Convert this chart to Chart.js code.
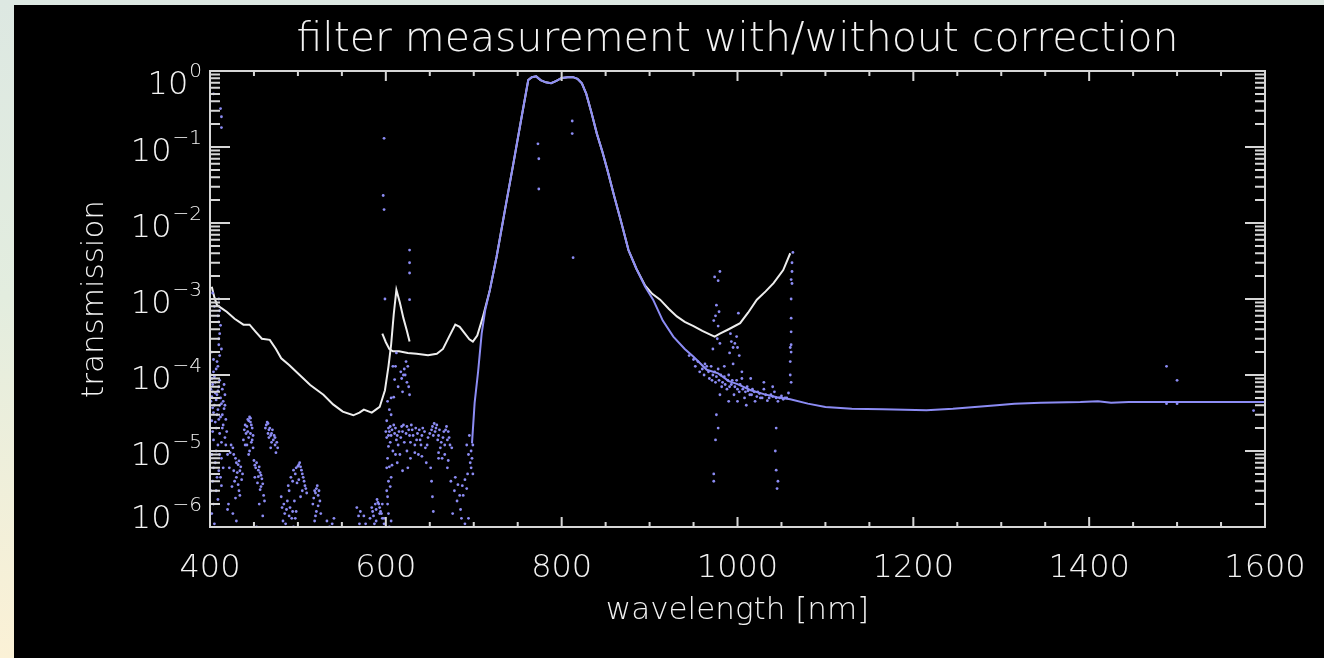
<!DOCTYPE html>
<html>
<head>
<meta charset="utf-8">
<title>filter measurement with/without correction</title>
<script src="https://cdn.jsdelivr.net/npm/chart.js@4.4.1/dist/chart.umd.min.js"></script>
<style>
  html, body { margin: 0; padding: 0; }
  body {
    width: 1324px; height: 658px; overflow: hidden; position: relative;
    background: linear-gradient(to bottom, #dde8e2 0%, #e3eddf 45%, #fbf1d6 100%);
  }
  #panel { position: absolute; left: 14px; top: 5px; right: 0; bottom: 0; background: #000; }
  #chart { position: absolute; left: 0; top: 0; }
</style>
</head>
<body>
<div id="panel"></div>
<canvas id="chart" width="1324" height="658"></canvas>
<script>
const titleText = "filter measurement with/without correction";
const xTitle = "wavelength [nm]";
const yTitle = "transmission";
const xTicks = [400, 600, 800, 1000, 1200, 1400, 1600];
const yTickExponents = [0, -1, -2, -3, -4, -5, -6];

// uncorrected measurement, first detector segment (ends with the 612 nm spike)
const uncorrWlA = [402, 405, 408, 413, 419, 428, 438, 445, 452, 459,
  468, 475, 481, 490, 502, 514, 529, 540, 551, 563,
  570, 575, 584, 593, 599, 603, 606, 609, 612, 616,
  620, 624, 627];
const uncorrA = [1.45e-3, 1.05e-3, 8.3e-4, 7.6e-4, 6.8e-4, 5.5e-4, 4.6e-4, 4.6e-4, 3.7e-4, 3.0e-4,
  2.9e-4, 2.2e-4, 1.66e-4, 1.35e-4, 1.0e-4, 7.4e-5, 5.5e-5, 4.1e-5, 3.3e-5, 2.95e-5,
  3.2e-5, 3.5e-5, 3.2e-5, 3.8e-5, 6.3e-5, 1.3e-4, 2.5e-4, 6.3e-4, 1.32e-3, 8.9e-4,
  5.6e-4, 3.8e-4, 2.75e-4];

// uncorrected measurement, second segment
const uncorrWlB = [596, 600, 604, 608, 615, 625, 635, 648, 658, 665,
  672, 679, 684, 690, 695, 699, 704, 710, 718, 726,
  735, 745, 755, 762, 766, 771, 776, 782, 788, 794,
  800, 807, 813, 818, 823, 828, 834, 840, 846, 852,
  860, 868, 876, 885, 895, 903, 912, 922, 931, 940,
  950, 960, 969, 974, 980, 990, 1003, 1012, 1022, 1032,
  1041, 1052, 1060];
const uncorrB = [3.5e-4, 2.7e-4, 2.2e-4, 2.05e-4, 2.05e-4, 1.95e-4, 1.9e-4, 1.82e-4, 1.9e-4, 2.2e-4,
  3.2e-4, 4.6e-4, 4.3e-4, 3.5e-4, 2.95e-4, 2.75e-4, 3.3e-4, 5.6e-4, 1.26e-3, 3.6e-3,
  1.38e-2, 6.0e-2, 0.27, 0.76, 0.83, 0.85, 0.76, 0.71, 0.69, 0.74,
  0.81, 0.83, 0.83, 0.79, 0.69, 0.5, 0.28, 0.15, 8.9e-2, 5.0e-2,
  2.2e-2, 1.0e-2, 4.4e-3, 2.5e-3, 1.5e-3, 1.17e-3, 9.8e-4, 7.4e-4, 5.9e-4, 5.0e-4,
  4.4e-4, 3.8e-4, 3.4e-4, 3.2e-4, 3.5e-4, 4.0e-4, 4.8e-4, 6.6e-4, 9.8e-4, 1.26e-3,
  1.62e-3, 2.4e-3, 4.0e-3];

// corrected measurement, the continuous part
const corrWl = [698, 701, 705, 709, 713, 718, 726, 735, 745, 755,
  762, 766, 771, 776, 782, 788, 794, 800, 807, 813,
  818, 823, 828, 834, 840, 846, 852, 860, 868, 876,
  885, 895, 904, 915, 927, 940, 950, 965, 978, 990,
  1000, 1015, 1030, 1045, 1060, 1080, 1100, 1130, 1165, 1215,
  1245, 1270, 1295, 1315, 1345, 1390, 1410, 1425, 1445, 1600];
const corr = [1.26e-5, 4.3e-5, 1.12e-4, 3.5e-4, 7.1e-4, 1.26e-3, 3.6e-3, 1.38e-2, 6.0e-2, 0.27,
  0.76, 0.83, 0.85, 0.76, 0.71, 0.69, 0.74, 0.81, 0.83, 0.83,
  0.79, 0.69, 0.5, 0.28, 0.15, 8.9e-2, 5.0e-2, 2.2e-2, 1.0e-2, 4.4e-3,
  2.5e-3, 1.45e-3, 9.8e-4, 5.2e-4, 3.2e-4, 2.2e-4, 1.74e-4, 1.17e-4, 1.05e-4, 8.3e-5,
  7.6e-5, 6.3e-5, 5.6e-5, 5.1e-5, 4.8e-5, 4.2e-5, 3.8e-5, 3.6e-5, 3.55e-5, 3.45e-5,
  3.6e-5, 3.8e-5, 4.0e-5, 4.2e-5, 4.3e-5, 4.4e-5, 4.5e-5, 4.3e-5, 4.4e-5, 4.4e-5];

// corrected measurement, scattered noisy samples [wavelength, transmission]
const corrScatter = [
  // left edge column
  [404, 0.5], [412, 0.32], [413, 0.25], [413, 0.18],
  [410, 1e-3], [411, 7e-4], [410, 5e-4], [411, 3.5e-4], [410, 2.5e-4], [411, 1.8e-4], [409, 1.3e-4],
  [403, 1.2e-3], [405, 8e-4], [409, 6e-4], [412, 4.5e-4], [410, 3e-4], [413, 2.2e-4], [408, 1.5e-4],
  [404, 1.1e-4], [402, 9e-5], [406, 8e-5], [410, 7e-5], [403, 6e-5], [408, 5.5e-5], [412, 5e-5],
  [415, 4.5e-5], [405, 4e-5], [409, 3.5e-5], [414, 3e-5], [418, 2.6e-5], [402, 2.5e-5], [407, 2e-5],
  [411, 1.7e-5], [404, 1.4e-5], [409, 1.2e-5], [402, 9e-6], [406, 7e-6], [410, 5.5e-6], [403, 4e-6],
  [407, 3e-6], [404, 2e-6], [402, 1.5e-6], [405, 1.1e-6], [408, 8e-7], [416, 7e-7],
  [401, 1e-4], [405, 9.5e-5], [411, 8.5e-5], [416, 7.5e-5], [401, 6.5e-5], [406, 5.8e-5], [417, 5.5e-5],
  [401, 4.5e-5], [411, 4e-5], [416, 3.6e-5], [404, 3.2e-5], [412, 2.8e-5], [406, 2.4e-5], [415, 2.2e-5],
  [419, 1.8e-5], [413, 1.3e-5], [411, 9e-6], [415, 6e-6], [413, 3.5e-6], [409, 2.3e-6], [420, 1.7e-6], [401, 3e-6],
  [402, 2e-4], [404, 1.6e-4], [407, 1.2e-4], [403, 7.5e-5], [409, 6.2e-5], [414, 6.5e-5], [402, 5.2e-5],
  [407, 4.7e-5], [413, 4.2e-5], [417, 4e-5], [403, 3.7e-5], [408, 3e-5], [410, 2.6e-5], [414, 2e-5],
  [403, 1.8e-5], [417, 1.5e-5], [407, 1e-5], [413, 8e-6], [404, 6e-6], [408, 4.5e-6], [412, 4.5e-6],
  [418, 1.2e-5], [420, 9e-6], [422, 6e-6],
  // humps 420-600 nm
  [440, 2.2e-5], [443, 2.6e-5], [445, 2.8e-5], [446, 2.4e-5], [448, 2e-5], [441, 1.7e-5], [444, 1.5e-5],
  [447, 1.3e-5], [449, 1.1e-5], [442, 1.2e-5], [438, 1.4e-5], [445, 1e-5],
  [439, 1.9e-5], [442, 2.1e-5], [444, 2.5e-5], [446, 2.7e-5], [447, 2.2e-5], [449, 1.6e-5], [443, 1.8e-5],
  [440, 1.2e-5], [446, 1.7e-5], [448, 1.4e-5], [444, 9e-6],
  [464, 2.2e-5], [466, 2.3e-5], [468, 2e-5], [470, 1.7e-5], [472, 1.4e-5], [474, 1.2e-5], [467, 1.5e-5],
  [475, 9.5e-6], [469, 1.1e-5], [476, 1.3e-5],
  [463, 2e-5], [465, 2.4e-5], [467, 1.9e-5], [469, 1.6e-5], [471, 1.9e-5], [473, 1.6e-5], [470, 1.3e-5],
  [474, 1.5e-5], [477, 1.1e-5], [466, 1.7e-5],
  [424, 1.2e-5], [427, 9e-6], [430, 7e-6], [432, 6.6e-6], [434, 5.5e-6], [436, 4.2e-6], [428, 4e-6],
  [425, 3.4e-6], [433, 3e-6], [437, 5e-6], [421, 2e-6], [426, 1.5e-6], [430, 1.2e-6], [435, 8e-7],
  [423, 9.5e-6], [426, 1.1e-5], [429, 8e-6], [431, 5.2e-6], [433, 7.4e-6], [435, 6.2e-6], [427, 5.5e-6],
  [430, 4.5e-6], [432, 3.6e-6], [434, 2.6e-6], [429, 2.4e-6],
  [450, 7.5e-6], [452, 6e-6], [455, 5.6e-6], [457, 5.2e-6], [459, 4.3e-6], [454, 3.8e-6], [458, 3.4e-6],
  [461, 2.6e-6], [451, 4.5e-6], [456, 2e-6], [460, 1.4e-6], [453, 1e-6],
  [451, 6.5e-6], [453, 7e-6], [456, 6.2e-6], [458, 4.8e-6], [455, 4.6e-6], [457, 3.1e-6], [460, 3.7e-6], [462, 2.2e-6],
  [490, 3e-6], [494, 4e-6], [497, 5e-6], [500, 6.3e-6], [502, 7e-6], [504, 5.6e-6], [506, 4.5e-6],
  [508, 3.5e-6], [510, 2.8e-6], [499, 3.8e-6], [503, 2.5e-6], [496, 2.2e-6],
  [489, 3.5e-6], [492, 4.5e-6], [495, 5.6e-6], [498, 6e-6], [501, 6.6e-6], [503, 6.2e-6], [505, 5e-6],
  [507, 4e-6], [509, 3.2e-6], [501, 4.2e-6], [505, 3e-6],
  [481, 2.5e-6], [484, 2e-6], [487, 1.7e-6], [490, 1.4e-6], [493, 1.3e-6], [486, 1.1e-6], [495, 1e-6],
  [498, 1.6e-6], [483, 1.2e-6],
  [482, 1.8e-6], [485, 1.5e-6], [488, 2.2e-6], [491, 1.8e-6], [494, 1.6e-6], [497, 1.3e-6],
  [517, 2e-6], [520, 2.8e-6], [522, 3.5e-6], [524, 3e-6], [525, 2.2e-6], [521, 1.6e-6], [519, 1.2e-6], [526, 1.5e-6],
  [518, 2.4e-6], [519, 3e-6], [521, 3.2e-6], [523, 2.6e-6], [523, 1.9e-6], [520, 1.4e-6],
  [533, 1.2e-6], [536, 1e-6], [539, 1.1e-6], [541, 1.3e-6],
  [567, 1.8e-6], [569, 1.4e-6], [570, 1.1e-6], [571, 1.6e-6],
  [582, 1.3e-6], [585, 1.6e-6], [588, 2e-6], [590, 2.3e-6], [592, 2e-6], [594, 1.6e-6], [596, 1.3e-6],
  [598, 1.1e-6], [600, 1e-6], [587, 1.1e-6],
  [584, 1.8e-6], [586, 1.4e-6], [589, 1.7e-6], [591, 2.1e-6], [593, 1.8e-6], [595, 1.5e-6], [589, 1.2e-6],
  [577, 1.1e-6], [575, 1.4e-6],
  [593, 1.5e-6], [596, 2e-6], [598, 1.3e-6], [601, 3e-6], [602, 2e-6], [604, 1e-6],
  // 600-700 nm
  [608, 1.3e-4], [606, 5e-5], [605, 2.1e-5], [603, 1.15e-5], [604, 6.2e-6], [605, 3.4e-6], [603, 1.5e-6],
  [601, 2.5e-5], [604, 1.8e-5], [602, 8e-6], [606, 4.5e-6],
  [612, 1.95e-4], [611, 1.3e-4], [610, 8.7e-5], [609, 5.1e-5], [620, 1e-4], [622, 1e-4], [624, 8e-5],
  [626, 7e-5], [619, 6e-5], [621, 1.2e-4], [625, 1.3e-4],
  [602, 4.5e-5], [604, 3.5e-5], [606, 3e-5], [617, 1.1e-4], [623, 1.5e-4], [618, 9e-5], [614, 7e-5], [627, 5.5e-5],
  [600, 1.8e-5], [603, 2e-5], [606, 1.6e-5], [609, 2.2e-5], [612, 1.4e-5], [615, 1.8e-5], [618, 2.1e-5],
  [621, 1.3e-5], [624, 2.1e-5], [627, 1.6e-5], [630, 1.9e-5], [633, 1.2e-5], [636, 1.7e-5], [639, 1.4e-5],
  [642, 2e-5], [645, 1.1e-5], [648, 1.5e-5], [652, 1.9e-5], [655, 2.3e-5], [657, 2e-5], [660, 1.6e-5],
  [663, 1.3e-5], [666, 1.8e-5], [669, 2.1e-5], [672, 1.5e-5], [675, 1.1e-5], [608, 1e-5], [616, 9e-6],
  [628, 8e-6], [637, 9e-6], [646, 7e-6], [664, 8e-6], [607, 6.5e-6], [619, 5.5e-6],
  [601, 1.5e-5], [603, 1.6e-5], [605, 1.3e-5], [607, 1.9e-5], [610, 1.7e-5], [611, 2e-5], [613, 1.6e-5],
  [614, 1.2e-5], [617, 1.5e-5], [619, 1.8e-5], [620, 2.2e-5], [623, 1.7e-5], [626, 1.9e-5], [628, 1.3e-5],
  [629, 2.2e-5], [631, 1.6e-5], [634, 2e-5], [635, 1.4e-5], [638, 1.9e-5], [640, 1.2e-5], [641, 1.6e-5],
  [644, 1.8e-5], [647, 1.2e-5], [650, 1.7e-5], [653, 2.1e-5], [654, 1.6e-5], [656, 1.8e-5], [658, 2.2e-5],
  [659, 1.4e-5], [661, 1.9e-5], [662, 1.1e-5], [665, 1.5e-5], [667, 1.2e-5], [668, 1.9e-5], [670, 1.4e-5],
  [671, 1.8e-5], [673, 1.2e-5], [660, 9.5e-6], [667, 9e-6], [671, 7.5e-6], [611, 9e-6], [624, 1e-5],
  [633, 9.5e-6], [641, 8.5e-6], [613, 7e-6], [625, 6e-6], [660, 8e-6],
  [651, 6e-6], [652, 4e-6], [653, 2.5e-6], [654, 1.6e-6], [670, 6e-6], [674, 4e-6], [678, 3e-6],
  [681, 2.2e-6], [685, 1.7e-6], [688, 2.6e-6], [692, 3.2e-6], [676, 1.5e-6], [694, 1.3e-6],
  [684, 2.6e-6], [687, 3.5e-6], [690, 4.2e-6], [693, 5e-6], [679, 4.5e-6], [682, 3.6e-6], [686, 1.3e-6],
  [690, 1.1e-6], [695, 1.6e-5], [698, 8e-6], [697, 6e-6], [699, 5e-6],
  [692, 1.2e-5], [694, 9e-6], [696, 7e-6], [697, 1e-5], [699, 1.2e-5],
  [601, 6e-6], [603, 4e-6], [602, 2.5e-6], [606, 1.2e-6],
  // isolated high samples
  [598, 0.13], [597, 2.3e-2], [598, 1.5e-2], [599, 1e-3], [627, 4.4e-3], [627, 3e-3], [627, 2.2e-3], [627, 9.8e-4],
  [773, 0.11], [774, 7e-2], [774, 2.8e-2], [812, 0.22], [812, 0.15], [813, 3.5e-3],
  // 940-1065 nm
  [974, 1.95e-3], [980, 2.3e-3], [978, 1.74e-3], [976, 8.3e-4], [973, 5.2e-4], [978, 4.4e-4], [1001, 6.5e-4],
  [1063, 4.1e-3], [1062, 3e-3], [1062, 2.3e-3], [1061, 1.8e-3], [1062, 1.6e-3], [1061, 1e-3], [1061, 5.6e-4],
  [1061, 3.7e-4], [1061, 2.5e-4], [1060, 2.3e-4], [1061, 2e-4], [993, 2.75e-4], [995, 2.3e-4], [991, 1.95e-4],
  [1000, 2.3e-4], [999, 3.2e-4],
  [975, 6e-4], [979, 6.8e-4], [977, 3e-4], [980, 2.6e-4], [972, 2.2e-4], [992, 3.5e-4], [997, 2.6e-4],
  [1002, 1.8e-4], [1060, 1.5e-4], [1060, 1e-4], [1061, 8e-5],
  [955, 1.5e-4], [960, 1.2e-4], [963, 1.4e-4], [968, 9e-5], [970, 1.3e-4], [972, 1e-4], [975, 8e-5],
  [978, 1.2e-4], [982, 7e-5], [985, 9.5e-5], [988, 6.5e-5], [990, 1e-4], [993, 7.5e-5], [996, 5.5e-5],
  [999, 8.5e-5], [1002, 6e-5], [1005, 9e-5], [1008, 5e-5], [1011, 7e-5], [1014, 5.5e-5], [1017, 6.5e-5],
  [1020, 4.5e-5], [1023, 6e-5], [1026, 5e-5], [1030, 6.5e-5], [1034, 4.6e-5], [1038, 5.5e-5], [1042, 6e-5],
  [1046, 4.5e-5], [1050, 5.3e-5], [1054, 5e-5], [1058, 5.8e-5],
  [945, 1.8e-4], [950, 1.6e-4], [952, 1.3e-4], [957, 1.1e-4], [962, 1e-4], [965, 1.3e-4], [967, 1.1e-4],
  [971, 8.5e-5], [974, 1.1e-4], [976, 9.5e-5], [979, 8.5e-5], [981, 1e-4], [983, 8e-5], [986, 7.5e-5],
  [989, 8.5e-5], [991, 7e-5], [994, 8.5e-5], [997, 7e-5], [1000, 6.5e-5], [1003, 7.5e-5], [1006, 6.5e-5],
  [1009, 6e-5], [1012, 6.2e-5], [1016, 5.5e-5], [1019, 6e-5], [1022, 5.2e-5], [1025, 5.7e-5], [1028, 5e-5],
  [1032, 5.5e-5], [1036, 5e-5], [1040, 5.2e-5], [1044, 5e-5], [1048, 5e-5], [1052, 4.8e-5], [1056, 5e-5],
  [985, 1.3e-4], [995, 1.4e-4], [1005, 1.1e-4], [1015, 9e-5], [1030, 8e-5], [1040, 7e-5],
  [980, 5.5e-5], [990, 4.5e-5], [1000, 4.5e-5], [1010, 4e-5],
  [973, 5e-6], [973, 4e-6], [1044, 5.6e-6], [1045, 3.2e-6], [1046, 4e-6], [1043, 1e-5], [1044, 2e-5],
  [976, 3e-5], [978, 2e-5], [975, 1.4e-5],
  // far outliers
  [1488, 1.3e-4], [1500, 8.5e-5], [1587, 3.4e-5], [1488, 4.2e-5], [1500, 4.2e-5]
];

const font = "'DejaVu Sans', sans-serif";
const textColor = "#f2f2f2";
const axisColor = "#d6d6d6";
const blue = "#8c8cf4";
const white = "#eeeeee";

const toPoints = (xs, ys) => xs.map((x, i) => ({ x: x, y: ys[i] }));

// frame with inward ticks on all four sides, IDL style
const framePlugin = {
  id: "frame",
  afterDatasetsDraw(chart) {
    const { ctx, chartArea: a, scales: { x, y } } = chart;
    ctx.save();
    ctx.strokeStyle = axisColor;
    ctx.lineWidth = 2;
    ctx.strokeRect(a.left, a.top, a.right - a.left, a.bottom - a.top);
    ctx.beginPath();
    for (let v = x.min; v <= x.max; v += 50) {
      const px = x.getPixelForValue(v);
      const len = v % 200 === 0 ? 10 : 5;
      ctx.moveTo(px, a.bottom); ctx.lineTo(px, a.bottom - len);
      ctx.moveTo(px, a.top); ctx.lineTo(px, a.top + len);
    }
    yTickExponents.forEach(e => {
      for (let k = 1; k <= 9; k++) {
        const v = k * Math.pow(10, e);
        if (v > y.max * 1.0001) break;
        const py = y.getPixelForValue(v);
        const len = k === 1 ? 20 : 10;
        ctx.moveTo(a.left, py); ctx.lineTo(a.left + len, py);
        ctx.moveTo(a.right, py); ctx.lineTo(a.right - len, py);
      }
    });
    ctx.stroke();
    ctx.restore();
  },
  afterDraw(chart) {
    const { ctx, chartArea: a, scales: { y } } = chart;
    ctx.save();
    ctx.fillStyle = textColor;
    ctx.textBaseline = "alphabetic";
    ctx.textAlign = "center";
    ctx.font = "200 41px " + font;
    ctx.fillText(titleText, (a.left + a.right) / 2, 51);

    ctx.textAlign = "left";
    yTickExponents.forEach(e => {
      const ty = y.getPixelForValue(Math.pow(10, e));
      const cy = Math.min(Math.max(ty + 2, a.top + 11), a.bottom - 11);
      const exp = e === 0 ? "0" : "\u2212" + (-e);
      ctx.font = "200 20px " + font;
      const we = ctx.measureText(exp).width;
      ctx.font = "200 32px " + font;
      const wb = ctx.measureText("10").width;
      const right = a.left - 8;
      const base = cy + 11.5;
      ctx.fillText("10", right - we - 1 - wb, base);
      ctx.font = "200 20px " + font;
      ctx.fillText(exp, right - we, base - 17);
    });
    ctx.restore();
  }
};

new Chart(document.getElementById("chart"), {
  type: "scatter",
  data: {
    datasets: [
      {
        label: "corrected (samples)",
        data: corrScatter.map(p => ({ x: p[0], y: p[1] })),
        showLine: false,
        pointRadius: 1.4,
        pointBorderWidth: 0,
        pointBackgroundColor: blue
      },
      {
        label: "corrected",
        data: toPoints(corrWl, corr),
        showLine: true,
        borderColor: blue,
        borderWidth: 2,
        pointRadius: 0,
        tension: 0
      },
      {
        label: "uncorrected",
        data: toPoints(uncorrWlB, uncorrB),
        showLine: true,
        borderColor: white,
        borderWidth: 2,
        pointRadius: 0,
        tension: 0
      },
      {
        label: "uncorrected (first segment)",
        data: toPoints(uncorrWlA, uncorrA),
        showLine: true,
        borderColor: white,
        borderWidth: 2,
        pointRadius: 0,
        tension: 0
      }
    ]
  },
  options: {
    responsive: false,
    animation: false,
    devicePixelRatio: 1,
    layout: { padding: { top: 71, right: 59, bottom: 0, left: 0 } },
    plugins: {
      legend: { display: false },
      tooltip: { enabled: false },
      title: { display: false }
    },
    scales: {
      x: {
        type: "linear",
        min: 400,
        max: 1600,
        afterBuildTicks: s => { s.ticks = xTicks.map(v => ({ value: v })); },
        afterFit: s => { s.height = 131; s.paddingLeft = 0; s.paddingRight = 0; },
        grid: { display: false, drawTicks: false },
        border: { display: false },
        ticks: {
          color: textColor,
          font: { family: font, size: 32, weight: 200 },
          padding: 22,
          maxRotation: 0,
          callback: v => String(v)
        },
        title: {
          display: true,
          text: xTitle,
          color: textColor,
          font: { family: font, size: 31, weight: 200 },
          padding: { top: 0, bottom: 28 }
        }
      },
      y: {
        type: "logarithmic",
        min: 1e-6,
        max: 1,
        afterFit: s => { s.width = 210; },
        grid: { display: false, drawTicks: false },
        border: { display: false },
        ticks: { display: false },
        title: {
          display: true,
          text: yTitle,
          color: textColor,
          font: { family: font, size: 31, weight: 200 },
          padding: { top: 76, bottom: 0 }
        }
      }
    }
  },
  plugins: [framePlugin]
});
</script>
</body>
</html>
